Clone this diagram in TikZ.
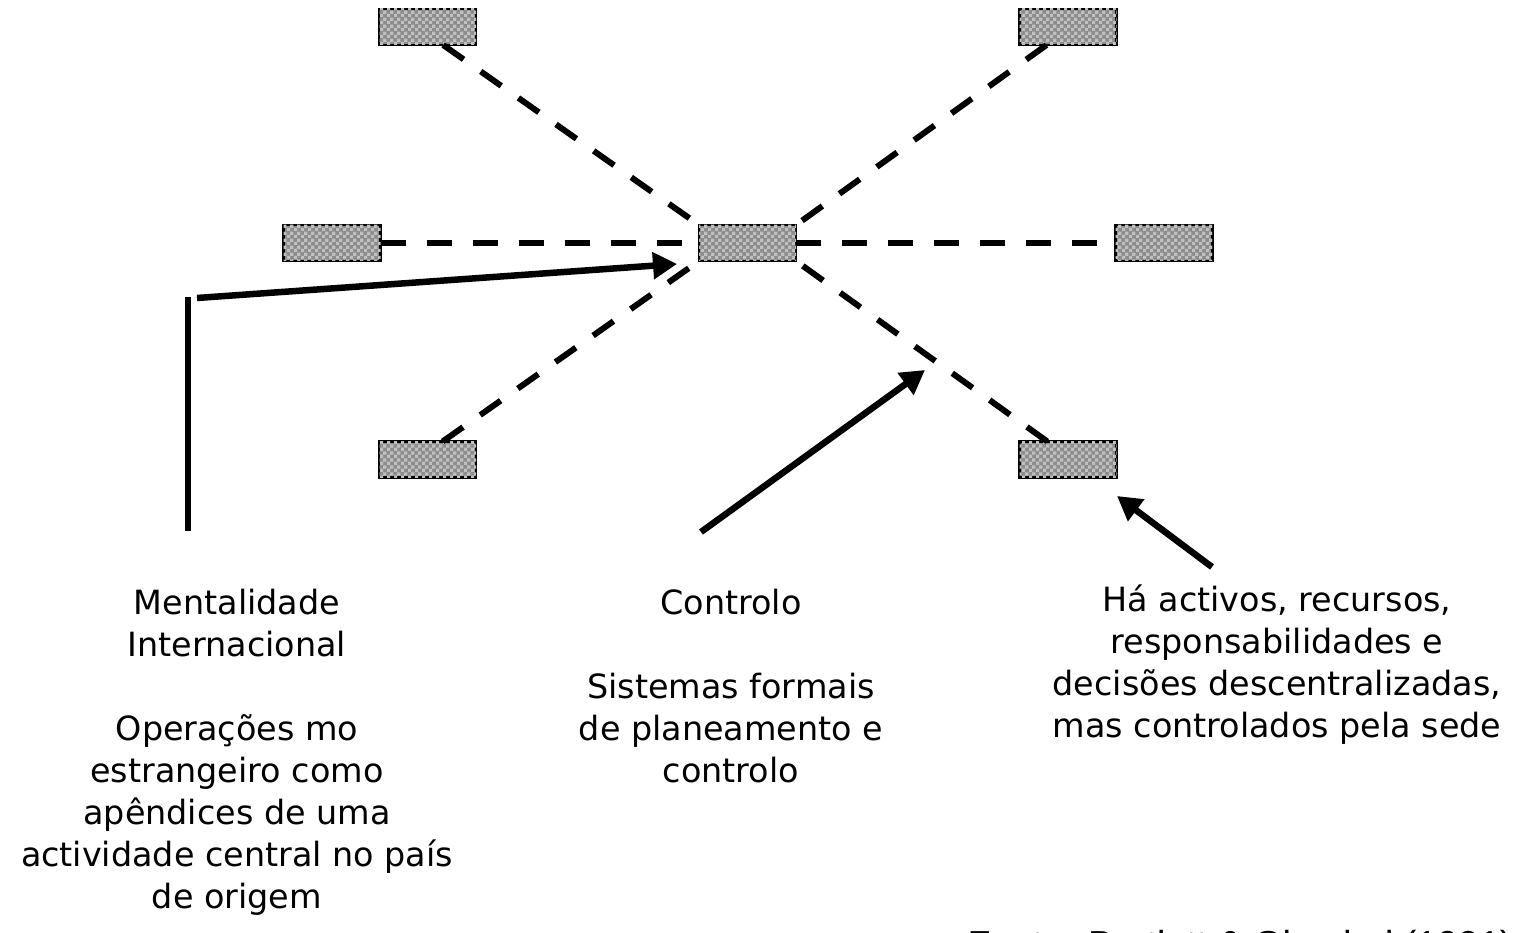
\documentclass[tikz,border=0pt]{standalone}
\usepackage{fontspec}
\setmainfont{DejaVu Sans}
\newfontfamily\arialfont{Liberation Sans}
\usetikzlibrary{patterns,arrows.meta}
\definecolor{boxdark}{RGB}{140,140,140}
\definecolor{boxlight}{RGB}{192,192,192}
\pgfdeclarepatternformonly{finecheck}{\pgfpointorigin}{\pgfqpoint{1.9pt}{1.9pt}}{\pgfqpoint{1.9pt}{1.9pt}}{%
  \pgfpathrectangle{\pgfpointorigin}{\pgfqpoint{0.95pt}{0.95pt}}%
  \pgfpathrectangle{\pgfqpoint{0.95pt}{0.95pt}}{\pgfqpoint{0.95pt}{0.95pt}}%
  \pgfusepath{fill}}
\tikzset{
  unitbox/.style={draw=black, line width=0.7pt, fill=boxdark,
    postaction={pattern=finecheck, pattern color=boxlight},
    minimum width=0.97cm, minimum height=0.36cm, inner sep=0pt, outer sep=0pt},
  dashlink/.style={line width=1.7pt, dash pattern=on 0.25cm off 0.21cm},
  solidlink/.style={line width=1.85pt},
  arrowlink/.style={line width=1.85pt, -{Triangle[length=0.24cm,width=0.26cm]}},
  label/.style={align=center, font=\fontsize{9.5}{11.95}\selectfont, inner sep=0pt, anchor=north}
}
\begin{document}
\begin{tikzpicture}
\useasboundingbox (0,0) rectangle (15.17,-9.33);
% boxes
\node[unitbox] (tl) at (4.275,-0.27) {};
\node[unitbox] (tr) at (10.68,-0.27) {};
\node[unitbox] (l)  at (3.32,-2.43) {};
\node[unitbox] (c)  at (7.475,-2.43) {};
\node[unitbox] (r)  at (11.64,-2.43) {};
\node[unitbox] (bl) at (4.275,-4.595) {};
\node[unitbox] (br) at (10.68,-4.595) {};
% dashed links
\draw[dashlink] (tl.-49) -- (c.north west);
\draw[dashlink] (tr.220) -- (c.north east);
\draw[dashlink] (l.east) -- (c.west);
\draw[dashlink] (c.east) -- (r.west);
\draw[dashlink] (bl.50) -- (c.south west);
\draw[dashlink] (br.139) -- (c.south east);
% labels
\node[label] (t1) at (2.37,-5.88) {Mentalidade\\Internacional\\[11.95pt]Operações mo\\estrangeiro como\\apêndices de uma\\actividade central no país\\de origem};
\node[label] (t2) at (7.31,-5.88) {Controlo\\[11.95pt]Sistemas formais\\de planeamento e\\controlo};
\node[label] (t3) at (12.77,-5.84) {Há activos, recursos,\\responsabilidades e\\decisões descentralizadas,\\mas controlados pela sede};
\node[anchor=base west, inner sep=0pt, font=\arialfont\fontsize{10.7}{12}\selectfont] (src) at (9.67,-9.58) {Fonte: Bartlett \& Ghoshal (1991)};
% arrows
\coordinate (v1) at (1.88,-5.31);
\coordinate (v2) at (1.88,-2.97);
\coordinate (a1s) at (1.97,-2.98);
\coordinate (a1e) at (6.77,-2.64);
\coordinate (a2s) at (7.01,-5.32);
\coordinate (a2e) at (9.25,-3.70);
\coordinate (a3s) at (12.12,-5.67);
\coordinate (a3e) at (11.17,-4.96);
\draw[solidlink] (v1) -- (v2);
\draw[arrowlink] (a1s) -- (a1e);
\draw[arrowlink] (a2s) -- (a2e);
\draw[arrowlink] (a3s) -- (a3e);
\end{tikzpicture}
\end{document}
